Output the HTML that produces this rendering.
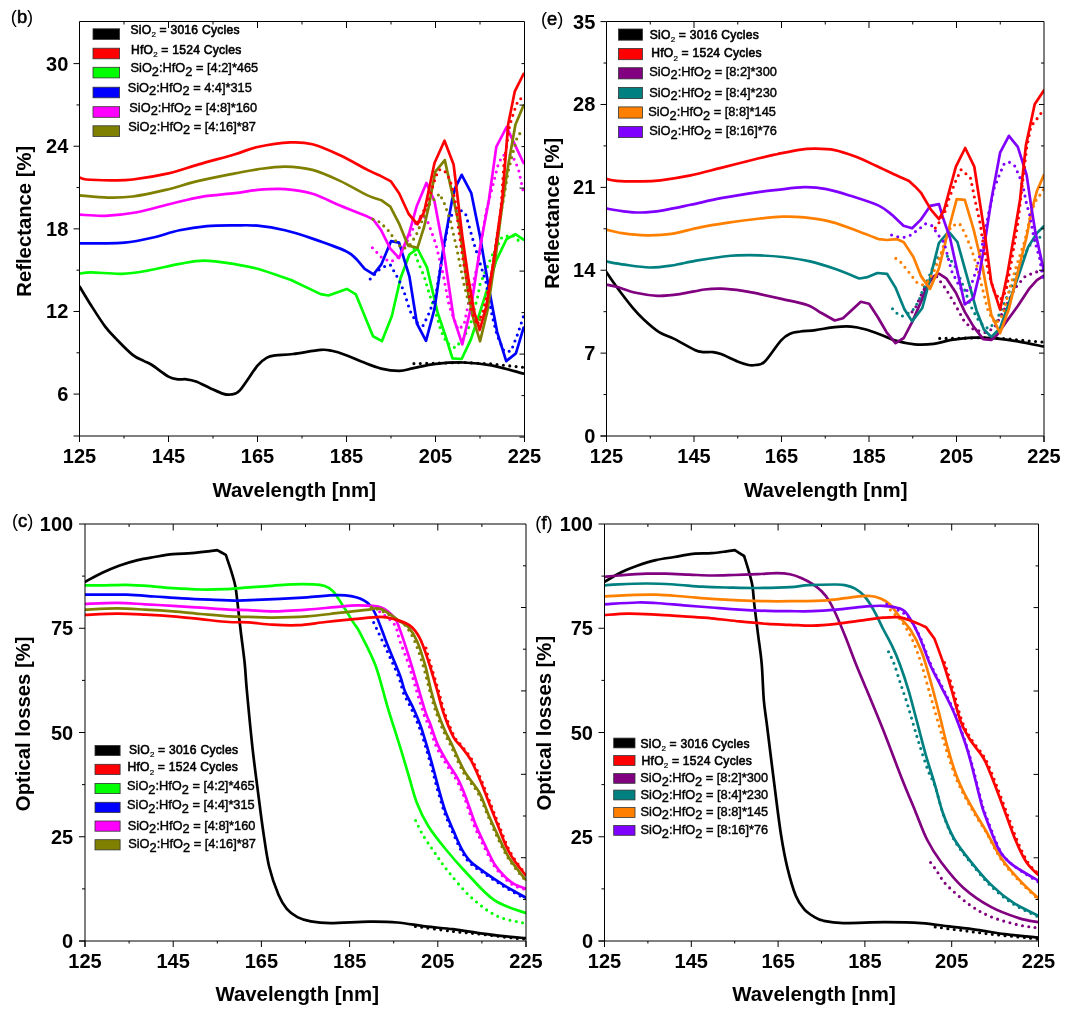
<!DOCTYPE html>
<html><head><meta charset="utf-8"><title>Reflectance and optical losses</title><style>
html,body{margin:0;padding:0;background:#fff;width:1076px;height:1019px;overflow:hidden;}
svg{display:block;will-change:transform;font-family:"Liberation Sans", sans-serif;}
</style></head><body>
<svg width="1076" height="1019" viewBox="0 0 1076 1019">
<rect width="1076" height="1019" fill="#fff"/>
<defs>
<clipPath id="cb"><rect x="79.5" y="21.5" width="445" height="414.5"/></clipPath>
<clipPath id="ce"><rect x="606.5" y="21.5" width="437.5" height="414.5"/></clipPath>
<clipPath id="cc"><rect x="85" y="524" width="441" height="417"/></clipPath>
<clipPath id="cf"><rect x="604.5" y="524" width="434" height="417"/></clipPath>
</defs>

<g clip-path="url(#cb)">
<path d="M79.70,286.70 C81.67,289.92 87.25,299.35 91.50,306.00 C95.75,312.65 101.08,321.12 105.20,326.60 C109.32,332.08 111.62,334.18 116.20,338.90 C120.78,343.62 128.12,351.23 132.70,354.90 C137.28,358.57 140.48,359.22 143.70,360.90 C146.92,362.58 147.87,362.38 152.00,365.00 C156.13,367.62 164.15,374.22 168.50,376.60 C172.85,378.98 175.13,378.85 178.10,379.30 C181.07,379.75 183.32,378.93 186.30,379.30 C189.28,379.67 192.10,380.07 196.00,381.50 C199.90,382.93 205.12,385.83 209.70,387.90 C214.28,389.97 220.07,392.80 223.50,393.90 C226.93,395.00 227.62,395.05 230.30,394.50 C232.98,393.95 235.07,395.42 239.60,390.60 C244.13,385.78 252.92,371.10 257.50,365.60 C262.08,360.10 264.12,359.30 267.10,357.60 C270.08,355.90 271.05,356.00 275.40,355.40 C279.75,354.80 285.65,354.92 293.20,354.00 C300.75,353.08 314.28,350.43 320.70,349.90 C327.12,349.37 327.57,349.97 331.70,350.80 C335.83,351.63 340.45,353.07 345.50,354.90 C350.55,356.73 356.05,359.52 362.00,361.80 C367.95,364.08 374.95,367.08 381.20,368.60 C387.45,370.12 394.12,370.98 399.50,370.90 C404.88,370.82 407.45,369.27 413.50,368.10 C419.55,366.93 427.45,364.83 435.80,363.90 C444.15,362.97 454.32,362.27 463.60,362.50 C472.88,362.73 481.50,363.45 491.50,365.30 C501.50,367.15 518.25,372.22 523.60,373.60" fill="none" stroke="#000000" stroke-width="2.7" stroke-linejoin="round" stroke-linecap="round"/>
<path d="M413.90,363.60 L435.80,363.20 L463.60,362.50 L491.50,363.90 L523.60,367.40" fill="none" stroke="#000000" stroke-width="3.1" stroke-linecap="round" stroke-dasharray="0 6.4"/>
<path d="M79.70,273.50 C81.67,273.32 84.50,272.35 91.50,272.40 C98.50,272.45 112.53,274.07 121.70,273.80 C130.87,273.53 136.87,272.45 146.50,270.80 C156.13,269.15 169.88,265.60 179.50,263.90 C189.12,262.20 194.95,260.55 204.20,260.60 C213.45,260.65 226.12,262.83 235.00,264.20 C243.88,265.57 248.25,266.20 257.50,268.80 C266.75,271.40 285.00,277.97 290.50,279.80 L320.70,294.10 L328.40,295.50 L346.80,288.90 L355.90,294.40 L373.00,336.20 L382.00,341.10 L391.80,316.30 L400.60,278.00 L409.40,254.50 L417.50,248.60 L427.10,267.70 L437.40,311.90 L445.50,336.00 L452.50,358.30 L461.60,359.00 L470.60,340.20 L480.40,310.90 L496.30,260.40 L506.60,239.00 L515.40,234.20 L523.50,239.70" fill="none" stroke="#00ff00" stroke-width="2.7" stroke-linejoin="round" stroke-linecap="round"/>
<path d="M413.90,248.60 L416.80,258.90 L424.20,276.50 L429.50,294.20 L437.20,317.90 L441.30,331.80 L446.90,343.00 L455.30,347.90 L463.60,338.10 L470.60,323.50 L477.60,297.00 L480.10,283.90 L491.90,255.90 L502.20,236.80 L512.50,235.30 L522.80,244.20" fill="none" stroke="#00ff00" stroke-width="3.1" stroke-linecap="round" stroke-dasharray="0 6.4"/>
<path d="M79.70,243.30 C82.58,243.30 89.53,243.40 97.00,243.30 C104.47,243.20 115.33,243.62 124.50,242.70 C133.67,241.78 142.83,239.87 152.00,237.80 C161.17,235.73 170.33,232.23 179.50,230.30 C188.67,228.37 197.75,227.02 207.00,226.20 C216.25,225.38 226.58,225.48 235.00,225.40 C243.42,225.32 249.17,224.88 257.50,225.70 C265.83,226.52 275.83,228.15 285.00,230.30 C294.17,232.45 302.42,235.15 312.50,238.60 C322.58,242.05 338.17,247.57 345.50,251.00 C352.83,254.43 354.67,257.83 356.50,259.20 L364.70,268.80 L373.50,274.30 L381.20,264.70 L391.00,241.20 L399.10,242.70 L409.40,276.50 L416.90,323.50 L426.00,340.90 L434.50,308.90 L443.30,248.60 L452.10,200.00 L455.10,188.10 L461.70,174.80 L471.30,193.20 L480.10,236.80 L488.90,288.30 L497.10,331.80 L506.20,361.10 L515.90,353.40 L523.60,327.60" fill="none" stroke="#0000ff" stroke-width="2.7" stroke-linejoin="round" stroke-linecap="round"/>
<path d="M370.20,279.00 L378.50,270.20 L385.30,266.10 L390.30,264.80 L399.10,280.20 L404.40,292.80 L410.00,310.90 L416.20,322.10 L423.20,325.50 L428.80,313.70 L435.80,295.60 L438.90,276.50 L449.20,217.70 L458.00,208.80 L465.40,213.20 L474.20,244.20 L486.00,282.40 L492.00,315.00 L497.00,335.00 L504.10,351.30 L511.00,351.30 L518.00,333.20 L523.60,315.80" fill="none" stroke="#0000ff" stroke-width="3.1" stroke-linecap="round" stroke-dasharray="0 6.4"/>
<path d="M79.70,214.70 C83.95,214.88 95.90,216.17 105.20,215.80 C114.50,215.43 124.50,214.52 135.50,212.50 C146.50,210.48 160.20,206.32 171.20,203.70 C182.20,201.08 190.87,198.55 201.50,196.80 C212.13,195.05 225.67,194.35 235.00,193.20 C244.33,192.05 249.17,190.58 257.50,189.90 C265.83,189.22 275.83,188.45 285.00,189.10 C294.17,189.75 303.33,191.05 312.50,193.80 C321.67,196.55 330.83,201.80 340.00,205.60 C349.17,209.40 362.92,214.77 367.50,216.60 L373.00,219.30 L381.20,230.30 L390.30,248.60 L399.10,258.10 L403.60,247.10 L409.40,232.40 L416.80,205.90 L426.40,182.90 L434.50,201.30 L443.30,248.60 L453.60,317.80 L462.30,344.40 L471.30,306.00 L480.10,247.10 L488.90,200.00 L496.30,146.90 L506.60,127.00 L523.50,163.00" fill="none" stroke="#ff00ff" stroke-width="2.7" stroke-linejoin="round" stroke-linecap="round"/>
<path d="M372.40,247.70 L381.20,257.00 L390.30,261.80 L397.70,258.10 L406.50,242.70 L416.80,220.60 L424.20,216.20 L428.60,223.60 L435.90,244.20 L443.30,275.10 L449.20,306.00 L458.00,329.50 L463.90,325.10 L469.80,297.20 L478.60,260.40 L486.00,211.80 L497.80,166.00 L502.20,155.70 L508.10,154.20 L512.50,155.70 L518.40,168.90 L523.50,192.50" fill="none" stroke="#ff00ff" stroke-width="3.1" stroke-linecap="round" stroke-dasharray="0 6.4"/>
<path d="M79.70,195.40 C84.42,195.77 99.17,197.42 108.00,197.60 C116.83,197.78 123.08,197.78 132.70,196.50 C142.32,195.22 154.70,192.50 165.70,189.90 C176.70,187.30 187.15,183.65 198.70,180.90 C210.25,178.15 225.20,175.33 235.00,173.40 C244.80,171.47 249.17,170.43 257.50,169.30 C265.83,168.17 275.83,166.50 285.00,166.60 C294.17,166.70 303.33,167.52 312.50,169.90 C321.67,172.28 330.83,176.65 340.00,180.90 C349.17,185.15 360.63,192.20 367.50,195.40 C374.37,198.60 378.92,199.32 381.20,200.10 L390.30,206.60 L399.10,223.60 L408.00,245.60 L417.50,247.80 L424.20,226.50 L428.60,207.20 L435.20,171.90 L444.80,160.10 L453.60,200.00 L459.50,226.50 L468.30,294.20 L474.20,322.20 L480.10,341.30 L487.50,310.40 L496.30,251.50 L502.90,200.00 L508.10,166.00 L515.40,124.80 L523.50,105.60" fill="none" stroke="#808000" stroke-width="2.7" stroke-linejoin="round" stroke-linecap="round"/>
<path d="M373.00,219.30 L379.80,222.10 L384.00,226.20 L389.00,231.20 L394.70,239.70 L400.60,247.10 L403.60,248.60 L409.40,245.60 L416.10,235.30 L422.70,219.10 L430.00,203.50 L435.20,198.40 L439.60,193.70 L441.80,198.40 L444.80,204.40 L450.70,222.10 L456.50,247.10 L463.90,283.90 L469.80,307.50 L475.70,322.20 L483.00,317.80 L487.50,303.00 L491.90,270.70 L497.80,229.40 L503.70,198.40 L508.10,171.90 L512.50,154.20 L517.60,135.80 L522.00,131.40" fill="none" stroke="#808000" stroke-width="3.1" stroke-linecap="round" stroke-dasharray="0 6.4"/>
<path d="M79.70,177.60 C80.75,177.92 80.83,179.05 86.00,179.50 C91.17,179.95 102.92,180.30 110.70,180.30 C118.48,180.30 123.07,180.65 132.70,179.50 C142.33,178.35 157.50,175.92 168.50,173.40 C179.50,170.88 187.62,167.60 198.70,164.40 C209.78,161.20 225.20,157.10 235.00,154.20 C244.80,151.30 248.25,148.97 257.50,147.00 C266.75,145.03 281.33,142.85 290.50,142.40 C299.67,141.95 304.25,142.15 312.50,144.30 C320.75,146.45 330.83,151.03 340.00,155.30 C349.17,159.57 360.83,166.52 367.50,169.90 C374.17,173.28 377.92,174.65 380.00,175.60 L391.00,181.40 L399.10,193.20 L408.70,214.00 L417.50,224.30 L424.20,211.80 L434.50,163.00 L444.50,140.70 L453.60,164.50 L462.40,236.80 L468.30,278.00 L474.20,311.90 L479.70,330.00 L486.00,308.00 L493.40,263.30 L502.20,200.00 L508.10,124.80 L514.70,91.70 L523.50,74.00" fill="none" stroke="#ff0000" stroke-width="2.7" stroke-linejoin="round" stroke-linecap="round"/>
<path d="M417.50,222.00 L422.00,214.00 L427.10,204.40 L436.00,176.30 L438.90,169.70 L443.30,169.70 L447.70,174.80 L452.10,186.60 L456.50,207.20 L458.00,225.00 L462.40,256.00 L466.90,282.40 L472.00,311.90 L477.20,325.10 L483.00,311.90 L488.90,286.90 L494.80,254.50 L500.70,211.80 L504.00,163.00 L509.50,126.20 L514.00,111.50 L518.40,99.70 L523.50,97.50" fill="none" stroke="#ff0000" stroke-width="3.1" stroke-linecap="round" stroke-dasharray="0 6.4"/>
</g>
<line x1="79.50" y1="21.50" x2="79.50" y2="442.00" stroke="#000" stroke-width="1"/>
<line x1="73.50" y1="436.00" x2="524.50" y2="436.00" stroke="#000" stroke-width="1"/>
<line x1="79.50" y1="21.50" x2="524.50" y2="21.50" stroke="#000" stroke-width="1"/>
<line x1="524.50" y1="21.50" x2="524.50" y2="442.00" stroke="#000" stroke-width="1"/>
<line x1="79.50" y1="436.00" x2="79.50" y2="442.00" stroke="#000" stroke-width="1"/>
<text x="79.50" y="463.20" font-size="20" text-anchor="middle" font-weight="bold" >125</text>
<line x1="168.50" y1="436.00" x2="168.50" y2="442.00" stroke="#000" stroke-width="1"/>
<text x="168.50" y="463.20" font-size="20" text-anchor="middle" font-weight="bold" >145</text>
<line x1="257.50" y1="436.00" x2="257.50" y2="442.00" stroke="#000" stroke-width="1"/>
<text x="257.50" y="463.20" font-size="20" text-anchor="middle" font-weight="bold" >165</text>
<line x1="346.50" y1="436.00" x2="346.50" y2="442.00" stroke="#000" stroke-width="1"/>
<text x="346.50" y="463.20" font-size="20" text-anchor="middle" font-weight="bold" >185</text>
<line x1="435.50" y1="436.00" x2="435.50" y2="442.00" stroke="#000" stroke-width="1"/>
<text x="435.50" y="463.20" font-size="20" text-anchor="middle" font-weight="bold" >205</text>
<line x1="524.50" y1="436.00" x2="524.50" y2="442.00" stroke="#000" stroke-width="1"/>
<text x="524.50" y="463.20" font-size="20" text-anchor="middle" font-weight="bold" >225</text>
<line x1="124.00" y1="436.00" x2="124.00" y2="438.50" stroke="#000" stroke-width="1"/>
<line x1="213.00" y1="436.00" x2="213.00" y2="438.50" stroke="#000" stroke-width="1"/>
<line x1="302.00" y1="436.00" x2="302.00" y2="438.50" stroke="#000" stroke-width="1"/>
<line x1="391.00" y1="436.00" x2="391.00" y2="438.50" stroke="#000" stroke-width="1"/>
<line x1="480.00" y1="436.00" x2="480.00" y2="438.50" stroke="#000" stroke-width="1"/>
<line x1="168.50" y1="21.50" x2="168.50" y2="28.00" stroke="#000" stroke-width="1"/>
<line x1="257.50" y1="21.50" x2="257.50" y2="28.00" stroke="#000" stroke-width="1"/>
<line x1="346.50" y1="21.50" x2="346.50" y2="28.00" stroke="#000" stroke-width="1"/>
<line x1="435.50" y1="21.50" x2="435.50" y2="28.00" stroke="#000" stroke-width="1"/>
<line x1="124.00" y1="21.50" x2="124.00" y2="24.50" stroke="#000" stroke-width="1"/>
<line x1="213.00" y1="21.50" x2="213.00" y2="24.50" stroke="#000" stroke-width="1"/>
<line x1="302.00" y1="21.50" x2="302.00" y2="24.50" stroke="#000" stroke-width="1"/>
<line x1="391.00" y1="21.50" x2="391.00" y2="24.50" stroke="#000" stroke-width="1"/>
<line x1="480.00" y1="21.50" x2="480.00" y2="24.50" stroke="#000" stroke-width="1"/>
<line x1="73.50" y1="394.10" x2="79.50" y2="394.10" stroke="#000" stroke-width="1"/>
<text x="68.30" y="401.10" font-size="20" text-anchor="end" font-weight="bold" >6</text>
<line x1="73.50" y1="311.48" x2="79.50" y2="311.48" stroke="#000" stroke-width="1"/>
<text x="68.30" y="318.48" font-size="20" text-anchor="end" font-weight="bold" >12</text>
<line x1="73.50" y1="228.86" x2="79.50" y2="228.86" stroke="#000" stroke-width="1"/>
<text x="68.30" y="235.86" font-size="20" text-anchor="end" font-weight="bold" >18</text>
<line x1="73.50" y1="146.24" x2="79.50" y2="146.24" stroke="#000" stroke-width="1"/>
<text x="68.30" y="153.24" font-size="20" text-anchor="end" font-weight="bold" >24</text>
<line x1="73.50" y1="63.62" x2="79.50" y2="63.62" stroke="#000" stroke-width="1"/>
<text x="68.30" y="70.62" font-size="20" text-anchor="end" font-weight="bold" >30</text>
<line x1="76.50" y1="352.79" x2="79.50" y2="352.79" stroke="#000" stroke-width="1"/>
<line x1="76.50" y1="270.17" x2="79.50" y2="270.17" stroke="#000" stroke-width="1"/>
<line x1="76.50" y1="187.55" x2="79.50" y2="187.55" stroke="#000" stroke-width="1"/>
<line x1="76.50" y1="104.93" x2="79.50" y2="104.93" stroke="#000" stroke-width="1"/>
<line x1="521.50" y1="63.60" x2="524.50" y2="63.60" stroke="#000" stroke-width="1"/>
<line x1="519.50" y1="105.10" x2="524.50" y2="105.10" stroke="#000" stroke-width="1"/>
<line x1="521.50" y1="146.60" x2="524.50" y2="146.60" stroke="#000" stroke-width="1"/>
<line x1="519.50" y1="188.10" x2="524.50" y2="188.10" stroke="#000" stroke-width="1"/>
<line x1="521.50" y1="229.60" x2="524.50" y2="229.60" stroke="#000" stroke-width="1"/>
<line x1="519.50" y1="271.10" x2="524.50" y2="271.10" stroke="#000" stroke-width="1"/>
<line x1="521.50" y1="312.60" x2="524.50" y2="312.60" stroke="#000" stroke-width="1"/>
<line x1="519.50" y1="354.10" x2="524.50" y2="354.10" stroke="#000" stroke-width="1"/>
<line x1="521.50" y1="395.60" x2="524.50" y2="395.60" stroke="#000" stroke-width="1"/>
<line x1="519.50" y1="437.10" x2="524.50" y2="437.10" stroke="#000" stroke-width="1"/>
<text x="294.20" y="496.70" font-size="20.4" text-anchor="middle" font-weight="bold" >Wavelength [nm]</text>
<text x="31.50" y="221.20" font-size="20.3" text-anchor="middle" font-weight="bold" transform="rotate(-90 31.5 221.2)">Reflectance [%]</text>
<text x="10.80" y="23.40" font-size="18.3"><tspan>(</tspan><tspan stroke="#000" stroke-width="0.6">b</tspan><tspan>)</tspan></text>
<rect x="93.00" y="28.80" width="26.60" height="10.6" fill="#000000" stroke="#333" stroke-width="0.8"/>
<text x="130.50" y="33.70"><tspan font-size="12.1" letter-spacing="0.25" stroke="#000" stroke-width="0.6">SiO</tspan><tspan font-size="8" dy="3.4" stroke="#000" stroke-width="0.2">2</tspan><tspan font-size="12.1" letter-spacing="0.25" stroke="#000" stroke-width="0.6" dy="-3.4"> = 3016 Cycles</tspan></text>
<rect x="93.00" y="48.20" width="26.60" height="10.6" fill="#ff0000" stroke="#333" stroke-width="0.8"/>
<text x="131.00" y="53.90"><tspan font-size="12.1" letter-spacing="0.25" stroke="#000" stroke-width="0.6">HfO</tspan><tspan font-size="8" dy="3.4" stroke="#000" stroke-width="0.2">2</tspan><tspan font-size="12.1" letter-spacing="0.25" stroke="#000" stroke-width="0.6" dy="-3.4"> = 1524 Cycles</tspan></text>
<rect x="93.00" y="67.30" width="26.60" height="10.6" fill="#00ff00" stroke="#333" stroke-width="0.8"/>
<text x="130.50" y="72.10"><tspan font-size="12.8" stroke="#000" stroke-width="0.42">SiO</tspan><tspan font-size="12.8" stroke="#000" stroke-width="0.42" dy="3.4">2</tspan><tspan font-size="12.8" stroke="#000" stroke-width="0.42" dy="-3.4">:HfO</tspan><tspan font-size="12.8" stroke="#000" stroke-width="0.42" dy="3.4">2</tspan><tspan font-size="12.8" stroke="#000" stroke-width="0.42" dy="-3.4"> = [4:2]*465</tspan></text>
<rect x="93.00" y="87.20" width="26.60" height="10.6" fill="#0000ff" stroke="#333" stroke-width="0.8"/>
<text x="127.70" y="92.00"><tspan font-size="12.8" stroke="#000" stroke-width="0.42">SiO</tspan><tspan font-size="12.8" stroke="#000" stroke-width="0.42" dy="3.4">2</tspan><tspan font-size="12.8" stroke="#000" stroke-width="0.42" dy="-3.4">:HfO</tspan><tspan font-size="12.8" stroke="#000" stroke-width="0.42" dy="3.4">2</tspan><tspan font-size="12.8" stroke="#000" stroke-width="0.42" dy="-3.4"> = 4:4]*315</tspan></text>
<rect x="93.00" y="106.70" width="26.60" height="10.6" fill="#ff00ff" stroke="#333" stroke-width="0.8"/>
<text x="129.30" y="111.90"><tspan font-size="12.8" stroke="#000" stroke-width="0.42">SiO</tspan><tspan font-size="12.8" stroke="#000" stroke-width="0.42" dy="3.4">2</tspan><tspan font-size="12.8" stroke="#000" stroke-width="0.42" dy="-3.4">:HfO</tspan><tspan font-size="12.8" stroke="#000" stroke-width="0.42" dy="3.4">2</tspan><tspan font-size="12.8" stroke="#000" stroke-width="0.42" dy="-3.4"> = [4:8]*160</tspan></text>
<rect x="93.00" y="125.80" width="26.60" height="10.6" fill="#808000" stroke="#333" stroke-width="0.8"/>
<text x="128.20" y="130.70"><tspan font-size="12.8" stroke="#000" stroke-width="0.42">SiO</tspan><tspan font-size="12.8" stroke="#000" stroke-width="0.42" dy="3.4">2</tspan><tspan font-size="12.8" stroke="#000" stroke-width="0.42" dy="-3.4">:HfO</tspan><tspan font-size="12.8" stroke="#000" stroke-width="0.42" dy="3.4">2</tspan><tspan font-size="12.8" stroke="#000" stroke-width="0.42" dy="-3.4"> = [4:16]*87</tspan></text>
<g clip-path="url(#ce)">
<path d="M606.00,271.60 C607.75,274.12 612.00,280.62 616.50,286.70 C621.00,292.78 628.42,302.60 633.00,308.10 C637.58,313.60 639.65,315.70 644.00,319.70 C648.35,323.70 654.07,328.90 659.10,332.10 C664.13,335.30 668.25,335.93 674.20,338.90 C680.15,341.87 689.98,347.70 694.80,349.90 C699.62,352.10 700.12,351.73 703.10,352.10 C706.08,352.47 709.72,351.77 712.70,352.10 C715.68,352.43 716.87,352.53 721.00,354.10 C725.13,355.67 732.92,359.68 737.50,361.50 C742.08,363.32 745.53,364.42 748.50,365.00 C751.47,365.58 752.62,365.53 755.30,365.00 C757.98,364.47 760.30,365.92 764.60,361.80 C768.90,357.68 776.75,345.03 781.10,340.30 C785.45,335.57 787.48,334.87 790.70,333.40 C793.92,331.93 796.27,332.05 800.40,331.50 C804.53,330.95 809.78,330.83 815.50,330.10 C821.22,329.37 828.75,327.68 834.70,327.10 C840.65,326.52 846.15,326.23 851.20,326.60 C856.25,326.97 859.73,327.82 865.00,329.30 C870.27,330.78 877.72,333.62 882.80,335.50 C887.88,337.38 890.18,339.13 895.50,340.60 C900.82,342.07 908.32,343.77 914.70,344.30 C921.08,344.83 927.67,344.53 933.80,343.80 C939.93,343.07 944.87,340.93 951.50,339.90 C958.13,338.87 966.23,337.85 973.60,337.60 C980.97,337.35 988.33,337.78 995.70,338.40 C1003.07,339.02 1009.83,339.95 1017.80,341.30 C1025.77,342.65 1039.22,345.63 1043.50,346.50" fill="none" stroke="#000000" stroke-width="2.7" stroke-linejoin="round" stroke-linecap="round"/>
<path d="M939.70,338.40 L958.90,338.40 L981.00,337.60 L1003.00,338.40 L1025.10,340.60 L1043.50,342.10" fill="none" stroke="#000000" stroke-width="3.1" stroke-linecap="round" stroke-dasharray="0 6.4"/>
<path d="M606.00,284.50 C607.75,284.87 611.55,285.32 616.50,286.70 C621.45,288.08 628.83,291.28 635.70,292.80 C642.57,294.32 650.37,295.58 657.70,295.80 C665.03,296.02 671.90,295.15 679.70,294.10 C687.50,293.05 697.62,290.42 704.50,289.50 C711.38,288.58 714.58,288.38 721.00,288.60 C727.42,288.82 736.50,289.88 743.00,290.80 C749.50,291.72 753.42,292.72 760.00,294.10 C766.58,295.48 774.63,297.27 782.50,299.10 C790.37,300.93 800.78,302.82 807.20,305.10 C813.62,307.38 818.70,311.52 821.00,312.80 L834.70,320.50 L843.00,318.30 L860.80,301.80 L869.10,303.70 L877.70,317.00 L886.60,332.30 L895.50,343.10 L903.80,338.00 L912.10,322.10 L921.00,301.70 L927.40,285.10 L933.80,276.10 L938.90,273.60 L946.60,278.70 L955.90,292.70 L964.80,311.90 L973.60,326.60 L983.20,339.10 L991.30,339.90 L997.20,334.70 L1006.00,322.20 L1017.80,306.00 L1029.50,288.30 L1036.90,280.20 L1043.50,275.80" fill="none" stroke="#800080" stroke-width="2.7" stroke-linejoin="round" stroke-linecap="round"/>
<path d="M912.10,311.90 L915.90,306.80 L919.80,297.80 L923.60,290.20 L930.00,280.00 L936.30,276.10 L940.20,281.20 L944.00,286.30 L947.80,292.10 L955.90,306.00 L964.80,322.20 L973.60,329.50 L985.40,332.50 L994.20,328.10 L1003.00,311.90 L1014.80,288.30 L1025.10,276.50 L1035.40,272.10 L1043.50,270.70" fill="none" stroke="#800080" stroke-width="3.1" stroke-linecap="round" stroke-dasharray="0 6.4"/>
<path d="M606.00,261.40 C609.12,261.95 617.45,263.68 624.70,264.70 C631.95,265.72 641.70,267.37 649.50,267.50 C657.30,267.63 663.72,266.65 671.50,265.50 C679.28,264.35 687.50,262.10 696.20,260.60 C704.90,259.10 716.82,257.37 723.70,256.50 C730.58,255.63 731.45,255.58 737.50,255.40 C743.55,255.22 752.50,255.13 760.00,255.40 C767.50,255.67 774.17,256.00 782.50,257.00 C790.83,258.00 801.30,259.43 810.00,261.40 C818.70,263.37 826.45,265.95 834.70,268.80 C842.95,271.65 855.37,276.88 859.50,278.50 L867.70,277.10 L877.30,273.00 L887.00,273.80 L895.50,287.60 L904.40,309.30 L912.10,321.40 L922.30,308.00 L928.70,283.80 L933.80,263.40 L938.90,243.00 L948.60,231.60 L957.40,242.00 L966.20,273.60 L976.50,310.40 L983.90,329.50 L991.30,336.90 L1000.10,328.10 L1008.90,303.00 L1019.20,273.60 L1028.10,247.10 L1036.90,233.10 L1043.50,226.50" fill="none" stroke="#008080" stroke-width="2.7" stroke-linejoin="round" stroke-linecap="round"/>
<path d="M892.50,308.70 L897.40,313.80 L901.90,316.30 L912.10,311.20 L918.50,301.70 L923.00,289.50 L928.70,277.40 L935.10,262.10 L940.80,253.20 L947.10,255.90 L954.50,264.80 L961.80,282.40 L970.70,306.00 L979.50,322.20 L988.30,328.80 L995.70,322.20 L1003.00,306.00 L1011.90,285.40 L1020.70,261.80 L1029.50,245.60 L1036.90,238.30 L1043.50,236.10" fill="none" stroke="#008080" stroke-width="3.1" stroke-linecap="round" stroke-dasharray="0 6.4"/>
<path d="M606.00,229.50 C608.67,230.10 615.22,232.13 622.00,233.10 C628.78,234.07 638.45,235.17 646.70,235.30 C654.95,235.43 662.78,235.18 671.50,233.90 C680.22,232.62 689.83,229.43 699.00,227.60 C708.17,225.77 716.33,224.42 726.50,222.90 C736.67,221.38 750.67,219.55 760.00,218.50 C769.33,217.45 775.08,216.78 782.50,216.60 C789.92,216.42 796.25,216.48 804.50,217.40 C812.75,218.32 822.83,219.72 832.00,222.10 C841.17,224.48 851.72,228.87 859.50,231.70 C867.28,234.53 875.50,237.87 878.70,239.10 L887.00,240.00 L896.60,239.10 L903.80,242.30 L913.40,257.00 L921.00,276.10 L930.00,288.90 L938.90,268.50 L947.10,235.30 L956.70,199.10 L964.80,199.90 L973.60,229.40 L982.40,266.20 L991.30,314.80 L1000.10,333.20 L1008.90,308.90 L1017.80,272.10 L1026.60,236.80 L1031.80,210.00 L1036.90,191.00 L1044.00,174.80" fill="none" stroke="#ff8000" stroke-width="2.7" stroke-linejoin="round" stroke-linecap="round"/>
<path d="M895.80,258.40 L901.30,262.70 L905.70,268.20 L909.80,273.30 L913.40,278.10 L917.50,283.20 L922.30,284.80 L927.40,282.50 L933.80,271.70 L940.80,254.40 L946.60,235.30 L951.50,225.80 L959.60,223.60 L964.80,233.10 L970.70,247.10 L976.50,264.80 L982.40,288.30 L988.30,311.90 L995.70,323.70 L1003.00,314.80 L1010.40,285.40 L1017.80,261.80 L1025.10,239.70 L1031.00,213.20 L1035.40,201.30 L1039.10,196.20 L1043.50,189.50" fill="none" stroke="#ff8000" stroke-width="3.1" stroke-linecap="round" stroke-dasharray="0 6.4"/>
<path d="M606.00,208.40 C608.67,208.85 616.13,210.42 622.00,211.10 C627.87,211.78 634.33,212.63 641.20,212.50 C648.07,212.37 654.95,211.58 663.20,210.30 C671.45,209.02 681.07,206.82 690.70,204.80 C700.33,202.78 709.45,200.35 721.00,198.20 C732.55,196.05 750.67,193.28 760.00,191.90 C769.33,190.52 769.58,190.68 777.00,189.90 C784.42,189.12 796.25,187.33 804.50,187.20 C812.75,187.07 818.72,187.63 826.50,189.10 C834.28,190.57 842.50,193.25 851.20,196.00 C859.90,198.75 871.82,202.40 878.70,205.60 C885.58,208.80 890.20,213.60 892.50,215.20 L903.50,225.70 L912.10,228.30 L920.60,219.90 L930.20,205.90 L939.00,204.20 L942.70,216.90 L950.10,238.30 L955.90,264.80 L964.80,304.50 L973.60,297.90 L979.50,273.60 L983.90,248.60 L991.30,200.00 L1000.10,152.70 L1008.90,135.80 L1017.80,146.90 L1026.60,174.80 L1031.00,205.00 L1035.40,232.40 L1043.50,269.20" fill="none" stroke="#8000ff" stroke-width="2.7" stroke-linejoin="round" stroke-linecap="round"/>
<path d="M891.60,235.00 L898.10,236.80 L904.20,237.20 L910.20,235.30 L915.30,231.70 L920.40,227.90 L925.50,223.80 L931.90,225.70 L938.30,235.10 L944.20,242.70 L951.50,270.70 L960.40,288.30 L969.20,291.30 L976.50,269.20 L982.40,244.20 L988.30,214.70 L994.20,188.10 L999.40,174.80 L1004.50,163.00 L1009.70,162.30 L1014.80,166.00 L1020.00,177.80 L1023.70,189.50 L1026.60,204.30 L1029.50,214.00 L1034.00,238.30 L1039.80,258.90 L1043.50,282.40" fill="none" stroke="#8000ff" stroke-width="3.1" stroke-linecap="round" stroke-dasharray="0 6.4"/>
<path d="M606.00,178.90 C607.75,179.23 610.63,180.48 616.50,180.90 C622.37,181.32 633.87,181.50 641.20,181.40 C648.53,181.30 652.25,181.30 660.50,180.30 C668.75,179.30 680.62,177.47 690.70,175.40 C700.78,173.33 709.45,170.80 721.00,167.90 C732.55,165.00 750.67,160.28 760.00,158.00 C769.33,155.72 770.50,155.57 777.00,154.20 C783.50,152.83 792.58,150.72 799.00,149.80 C805.42,148.88 809.55,148.65 815.50,148.70 C821.45,148.75 828.28,148.87 834.70,150.10 C841.12,151.33 847.12,153.50 854.00,156.10 C860.88,158.70 869.13,162.58 876.00,165.70 C882.87,168.82 889.70,172.27 895.20,174.80 C900.70,177.33 906.70,179.88 909.00,180.90 L915.00,186.40 L921.30,193.20 L930.90,209.60 L939.00,219.10 L944.20,209.60 L955.90,166.70 L965.20,148.00 L974.30,166.70 L979.50,200.00 L985.40,238.30 L991.30,282.40 L1000.10,309.70 L1007.50,273.60 L1014.80,230.90 L1020.00,200.00 L1025.90,145.40 L1034.70,104.20 L1044.00,90.20" fill="none" stroke="#ff0000" stroke-width="2.7" stroke-linejoin="round" stroke-linecap="round"/>
<path d="M935.30,228.00 L940.50,220.60 L945.60,210.30 L948.60,199.90 L955.20,182.20 L961.10,169.70 L965.50,173.40 L970.70,178.50 L974.30,196.90 L980.20,223.60 L983.90,248.60 L988.30,272.10 L994.20,291.30 L1000.10,300.10 L1006.00,291.30 L1011.90,258.90 L1017.80,223.60 L1026.60,148.30 L1031.00,126.20 L1036.90,118.90 L1042.80,110.80" fill="none" stroke="#ff0000" stroke-width="3.1" stroke-linecap="round" stroke-dasharray="0 6.4"/>
</g>
<line x1="606.50" y1="21.50" x2="606.50" y2="442.00" stroke="#000" stroke-width="1"/>
<line x1="600.50" y1="436.00" x2="1044.00" y2="436.00" stroke="#000" stroke-width="1"/>
<line x1="606.50" y1="21.50" x2="1044.00" y2="21.50" stroke="#000" stroke-width="1"/>
<line x1="1044.00" y1="21.50" x2="1044.00" y2="442.00" stroke="#000" stroke-width="1"/>
<line x1="606.50" y1="436.00" x2="606.50" y2="442.00" stroke="#000" stroke-width="1"/>
<text x="606.50" y="463.20" font-size="20" text-anchor="middle" font-weight="bold" >125</text>
<line x1="694.00" y1="436.00" x2="694.00" y2="442.00" stroke="#000" stroke-width="1"/>
<text x="694.00" y="463.20" font-size="20" text-anchor="middle" font-weight="bold" >145</text>
<line x1="781.50" y1="436.00" x2="781.50" y2="442.00" stroke="#000" stroke-width="1"/>
<text x="781.50" y="463.20" font-size="20" text-anchor="middle" font-weight="bold" >165</text>
<line x1="869.00" y1="436.00" x2="869.00" y2="442.00" stroke="#000" stroke-width="1"/>
<text x="869.00" y="463.20" font-size="20" text-anchor="middle" font-weight="bold" >185</text>
<line x1="956.50" y1="436.00" x2="956.50" y2="442.00" stroke="#000" stroke-width="1"/>
<text x="956.50" y="463.20" font-size="20" text-anchor="middle" font-weight="bold" >205</text>
<line x1="1044.00" y1="436.00" x2="1044.00" y2="442.00" stroke="#000" stroke-width="1"/>
<text x="1044.00" y="463.20" font-size="20" text-anchor="middle" font-weight="bold" >225</text>
<line x1="650.25" y1="436.00" x2="650.25" y2="438.50" stroke="#000" stroke-width="1"/>
<line x1="737.75" y1="436.00" x2="737.75" y2="438.50" stroke="#000" stroke-width="1"/>
<line x1="825.25" y1="436.00" x2="825.25" y2="438.50" stroke="#000" stroke-width="1"/>
<line x1="912.75" y1="436.00" x2="912.75" y2="438.50" stroke="#000" stroke-width="1"/>
<line x1="1000.25" y1="436.00" x2="1000.25" y2="438.50" stroke="#000" stroke-width="1"/>
<line x1="694.00" y1="21.50" x2="694.00" y2="28.00" stroke="#000" stroke-width="1"/>
<line x1="781.50" y1="21.50" x2="781.50" y2="28.00" stroke="#000" stroke-width="1"/>
<line x1="869.00" y1="21.50" x2="869.00" y2="28.00" stroke="#000" stroke-width="1"/>
<line x1="956.50" y1="21.50" x2="956.50" y2="28.00" stroke="#000" stroke-width="1"/>
<line x1="650.25" y1="21.50" x2="650.25" y2="24.50" stroke="#000" stroke-width="1"/>
<line x1="737.75" y1="21.50" x2="737.75" y2="24.50" stroke="#000" stroke-width="1"/>
<line x1="825.25" y1="21.50" x2="825.25" y2="24.50" stroke="#000" stroke-width="1"/>
<line x1="912.75" y1="21.50" x2="912.75" y2="24.50" stroke="#000" stroke-width="1"/>
<line x1="1000.25" y1="21.50" x2="1000.25" y2="24.50" stroke="#000" stroke-width="1"/>
<line x1="600.50" y1="436.00" x2="606.50" y2="436.00" stroke="#000" stroke-width="1"/>
<text x="595.30" y="443.00" font-size="20" text-anchor="end" font-weight="bold" >0</text>
<line x1="600.50" y1="353.12" x2="606.50" y2="353.12" stroke="#000" stroke-width="1"/>
<text x="595.30" y="360.12" font-size="20" text-anchor="end" font-weight="bold" >7</text>
<line x1="600.50" y1="270.24" x2="606.50" y2="270.24" stroke="#000" stroke-width="1"/>
<text x="595.30" y="277.24" font-size="20" text-anchor="end" font-weight="bold" >14</text>
<line x1="600.50" y1="187.36" x2="606.50" y2="187.36" stroke="#000" stroke-width="1"/>
<text x="595.30" y="194.36" font-size="20" text-anchor="end" font-weight="bold" >21</text>
<line x1="600.50" y1="104.48" x2="606.50" y2="104.48" stroke="#000" stroke-width="1"/>
<text x="595.30" y="111.48" font-size="20" text-anchor="end" font-weight="bold" >28</text>
<line x1="600.50" y1="21.60" x2="606.50" y2="21.60" stroke="#000" stroke-width="1"/>
<text x="595.30" y="28.60" font-size="20" text-anchor="end" font-weight="bold" >35</text>
<line x1="603.50" y1="394.56" x2="606.50" y2="394.56" stroke="#000" stroke-width="1"/>
<line x1="603.50" y1="311.68" x2="606.50" y2="311.68" stroke="#000" stroke-width="1"/>
<line x1="603.50" y1="228.80" x2="606.50" y2="228.80" stroke="#000" stroke-width="1"/>
<line x1="603.50" y1="145.92" x2="606.50" y2="145.92" stroke="#000" stroke-width="1"/>
<line x1="603.50" y1="63.04" x2="606.50" y2="63.04" stroke="#000" stroke-width="1"/>
<line x1="1041.00" y1="63.04" x2="1044.00" y2="63.04" stroke="#000" stroke-width="1"/>
<line x1="1039.00" y1="104.48" x2="1044.00" y2="104.48" stroke="#000" stroke-width="1"/>
<line x1="1041.00" y1="145.92" x2="1044.00" y2="145.92" stroke="#000" stroke-width="1"/>
<line x1="1039.00" y1="187.36" x2="1044.00" y2="187.36" stroke="#000" stroke-width="1"/>
<line x1="1041.00" y1="228.80" x2="1044.00" y2="228.80" stroke="#000" stroke-width="1"/>
<line x1="1039.00" y1="270.24" x2="1044.00" y2="270.24" stroke="#000" stroke-width="1"/>
<line x1="1041.00" y1="311.68" x2="1044.00" y2="311.68" stroke="#000" stroke-width="1"/>
<line x1="1039.00" y1="353.12" x2="1044.00" y2="353.12" stroke="#000" stroke-width="1"/>
<line x1="1041.00" y1="394.56" x2="1044.00" y2="394.56" stroke="#000" stroke-width="1"/>
<text x="825.80" y="496.80" font-size="20.4" text-anchor="middle" font-weight="bold" >Wavelength [nm]</text>
<text x="558.80" y="213.30" font-size="20.3" text-anchor="middle" font-weight="bold" transform="rotate(-90 558.8 213.3)">Reflectance [%]</text>
<text x="541.00" y="24.80" font-size="18.3"><tspan>(</tspan><tspan stroke="#000" stroke-width="0.6">e</tspan><tspan>)</tspan></text>
<rect x="618.50" y="29.00" width="24.00" height="11.2" fill="#000000" stroke="#333" stroke-width="0.8"/>
<text x="649.80" y="38.70"><tspan font-size="12.1" letter-spacing="0.25" stroke="#000" stroke-width="0.6">SiO</tspan><tspan font-size="8" dy="3.4" stroke="#000" stroke-width="0.2">2</tspan><tspan font-size="12.1" letter-spacing="0.25" stroke="#000" stroke-width="0.6" dy="-3.4"> = 3016 Cycles</tspan></text>
<rect x="618.50" y="48.50" width="24.00" height="11.2" fill="#ff0000" stroke="#333" stroke-width="0.8"/>
<text x="651.20" y="57.40"><tspan font-size="12.1" letter-spacing="0.25" stroke="#000" stroke-width="0.6">HfO</tspan><tspan font-size="8" dy="3.4" stroke="#000" stroke-width="0.2">2</tspan><tspan font-size="12.1" letter-spacing="0.25" stroke="#000" stroke-width="0.6" dy="-3.4"> = 1524 Cycles</tspan></text>
<rect x="618.50" y="67.70" width="24.00" height="11.2" fill="#800080" stroke="#333" stroke-width="0.8"/>
<text x="649.20" y="76.00"><tspan font-size="12.8" stroke="#000" stroke-width="0.42">SiO</tspan><tspan font-size="12.8" stroke="#000" stroke-width="0.42" dy="3.4">2</tspan><tspan font-size="12.8" stroke="#000" stroke-width="0.42" dy="-3.4">:HfO</tspan><tspan font-size="12.8" stroke="#000" stroke-width="0.42" dy="3.4">2</tspan><tspan font-size="12.8" stroke="#000" stroke-width="0.42" dy="-3.4"> = [8:2]*300</tspan></text>
<rect x="618.50" y="87.40" width="24.00" height="11.2" fill="#008080" stroke="#333" stroke-width="0.8"/>
<text x="649.20" y="96.90"><tspan font-size="12.8" stroke="#000" stroke-width="0.42">SiO</tspan><tspan font-size="12.8" stroke="#000" stroke-width="0.42" dy="3.4">2</tspan><tspan font-size="12.8" stroke="#000" stroke-width="0.42" dy="-3.4">:HfO</tspan><tspan font-size="12.8" stroke="#000" stroke-width="0.42" dy="3.4">2</tspan><tspan font-size="12.8" stroke="#000" stroke-width="0.42" dy="-3.4"> = [8:4]*230</tspan></text>
<rect x="618.50" y="106.90" width="24.00" height="11.2" fill="#ff8000" stroke="#333" stroke-width="0.8"/>
<text x="648.20" y="116.40"><tspan font-size="12.8" stroke="#000" stroke-width="0.42">SiO</tspan><tspan font-size="12.8" stroke="#000" stroke-width="0.42" dy="3.4">2</tspan><tspan font-size="12.8" stroke="#000" stroke-width="0.42" dy="-3.4">:HfO</tspan><tspan font-size="12.8" stroke="#000" stroke-width="0.42" dy="3.4">2</tspan><tspan font-size="12.8" stroke="#000" stroke-width="0.42" dy="-3.4"> = [8:8]*145</tspan></text>
<rect x="618.50" y="126.40" width="24.00" height="11.2" fill="#8000ff" stroke="#333" stroke-width="0.8"/>
<text x="649.20" y="135.30"><tspan font-size="12.8" stroke="#000" stroke-width="0.42">SiO</tspan><tspan font-size="12.8" stroke="#000" stroke-width="0.42" dy="3.4">2</tspan><tspan font-size="12.8" stroke="#000" stroke-width="0.42" dy="-3.4">:HfO</tspan><tspan font-size="12.8" stroke="#000" stroke-width="0.42" dy="3.4">2</tspan><tspan font-size="12.8" stroke="#000" stroke-width="0.42" dy="-3.4"> = [8:16]*76</tspan></text>
<g clip-path="url(#cc)">
<path d="M85.20,581.70 C88.05,580.22 96.67,575.47 102.30,572.80 C107.93,570.13 113.12,567.82 119.00,565.70 C124.88,563.58 131.72,561.55 137.60,560.10 C143.48,558.65 148.42,557.98 154.30,557.00 C160.18,556.02 166.70,554.83 172.90,554.20 C179.10,553.57 185.60,553.67 191.50,553.20 C197.40,552.73 204.02,551.92 208.30,551.40 C212.58,550.88 215.72,550.32 217.20,550.10 C218.63,550.90 224.37,554.10 225.80,554.90 C226.72,557.65 229.73,566.30 231.30,571.40 C232.87,576.50 234.17,580.28 235.20,585.50 C236.23,590.72 236.58,595.12 237.50,602.70 C238.42,610.28 239.52,621.05 240.70,631.00 C241.88,640.95 243.58,652.57 244.60,662.40 C245.62,672.23 245.47,675.60 246.80,690.00 C248.13,704.40 250.65,731.15 252.60,748.80 C254.55,766.45 256.73,782.17 258.50,795.90 C260.27,809.63 261.43,819.43 263.20,831.20 C264.97,842.97 266.55,855.92 269.10,866.50 C271.65,877.08 275.55,887.65 278.50,894.70 C281.45,901.75 283.65,905.07 286.80,908.80 C289.95,912.53 293.40,915.00 297.40,917.10 C301.40,919.20 305.30,920.40 310.80,921.40 C316.30,922.40 320.63,923.05 330.40,923.10 C340.17,923.15 358.25,921.80 369.40,921.70 C380.55,921.60 388.00,921.72 397.30,922.50 C406.60,923.28 415.92,925.28 425.20,926.40 C434.48,927.52 443.72,928.03 453.00,929.20 C462.28,930.37 472.53,932.23 480.90,933.40 C489.27,934.57 495.77,935.42 503.20,936.20 C510.63,936.98 521.78,937.78 525.50,938.10" fill="none" stroke="#000000" stroke-width="2.7" stroke-linejoin="round" stroke-linecap="round"/>
<path d="M415.40,926.40 C421.67,927.23 442.08,930.10 453.00,931.40 C463.92,932.70 471.60,933.17 480.90,934.20 C490.20,935.23 501.37,936.80 508.80,937.60 C516.23,938.40 522.72,938.77 525.50,939.00" fill="none" stroke="#000000" stroke-width="3.1" stroke-linecap="round" stroke-dasharray="0 6.4"/>
<path d="M85.20,585.40 C88.05,585.40 95.42,585.50 102.30,585.40 C109.18,585.30 118.45,584.68 126.50,584.80 C134.55,584.92 142.87,585.53 150.60,586.10 C158.33,586.67 164.53,587.63 172.90,588.20 C181.27,588.77 192.12,589.35 200.80,589.50 C209.48,589.65 217.05,589.45 225.00,589.10 C232.95,588.75 240.65,587.95 248.50,587.40 C256.35,586.85 264.80,586.32 272.10,585.80 C279.40,585.28 285.52,584.55 292.30,584.30 C299.08,584.05 307.53,584.05 312.80,584.30 C318.07,584.55 320.50,584.63 323.90,585.80 C327.30,586.97 329.78,587.58 333.20,591.30 C336.62,595.02 341.00,602.83 344.40,608.10 C347.80,613.37 351.00,618.77 353.60,622.90 C356.20,627.03 356.35,625.80 360.00,632.90 C363.65,640.00 370.92,653.18 375.50,665.50 C380.08,677.82 383.42,693.28 387.50,706.80 C391.58,720.32 396.50,735.23 400.00,746.60 C403.50,757.97 405.65,765.52 408.50,775.00 C411.35,784.48 413.78,794.97 417.10,803.50 C420.42,812.03 423.67,818.62 428.40,826.20 C433.13,833.78 439.33,841.42 445.50,849.00 C451.67,856.58 457.33,863.22 465.40,871.70 C473.47,880.18 483.88,893.02 493.90,899.90 C503.92,906.78 520.23,910.82 525.50,913.00" fill="none" stroke="#00ff00" stroke-width="2.7" stroke-linejoin="round" stroke-linecap="round"/>
<path d="M415.60,820.50 C416.80,822.88 419.72,829.58 422.80,834.80 C425.88,840.02 429.83,845.65 434.10,851.80 C438.37,857.95 442.23,864.12 448.40,871.70 C454.57,879.28 462.93,889.88 471.10,897.30 C479.27,904.72 488.33,911.87 497.40,916.20 C506.47,920.53 520.82,922.12 525.50,923.30" fill="none" stroke="#00ff00" stroke-width="3.1" stroke-linecap="round" stroke-dasharray="0 6.4"/>
<path d="M85.20,594.70 C92.08,594.70 114.98,594.40 126.50,594.70 C138.02,595.00 145.02,595.88 154.30,596.50 C163.58,597.12 172.90,597.87 182.20,598.40 C191.50,598.93 200.80,599.33 210.10,599.70 C219.40,600.07 230.28,600.57 238.00,600.60 C245.72,600.63 249.42,600.20 256.40,599.90 C263.38,599.60 271.43,599.23 279.90,598.80 C288.37,598.37 297.38,597.92 307.20,597.30 C317.02,596.68 330.00,594.88 338.80,595.10 C347.60,595.32 354.18,596.02 360.00,598.60 C365.82,601.18 369.12,602.87 373.70,610.60 C378.28,618.33 383.12,634.20 387.50,645.00 C391.88,655.80 397.08,667.63 400.00,675.40 C402.92,683.17 402.85,686.28 405.00,691.60 C407.15,696.92 410.28,701.55 412.90,707.30 C415.52,713.05 418.35,719.57 420.70,726.10 C423.05,732.63 424.90,739.43 427.00,746.50 C429.10,753.57 431.20,760.90 433.30,768.50 C435.40,776.10 437.52,784.77 439.60,792.10 C441.68,799.43 443.45,805.95 445.80,812.50 C448.15,819.05 451.08,825.38 453.70,831.40 C456.32,837.42 458.78,843.67 461.50,848.60 C464.22,853.53 466.32,857.17 470.00,861.00 C473.68,864.83 477.90,867.55 483.60,871.60 C489.30,875.65 497.22,880.98 504.20,885.30 C511.18,889.62 521.95,895.47 525.50,897.50" fill="none" stroke="#0000ff" stroke-width="2.7" stroke-linejoin="round" stroke-linecap="round"/>
<path d="M373.70,622.60 C376.00,627.47 383.28,642.57 387.50,651.80 C391.72,661.03 396.33,671.13 399.00,678.00 C401.67,684.87 401.42,687.83 403.50,693.00 C405.58,698.17 408.83,703.17 411.50,709.00 C414.17,714.83 417.08,721.50 419.50,728.00 C421.92,734.50 423.87,741.00 426.00,748.00 C428.13,755.00 430.20,762.42 432.30,770.00 C434.40,777.58 436.48,786.17 438.60,793.50 C440.72,800.83 442.60,807.42 445.00,814.00 C447.40,820.58 450.33,827.00 453.00,833.00 C455.67,839.00 458.25,845.08 461.00,850.00 C463.75,854.92 465.75,858.67 469.50,862.50 C473.25,866.33 477.75,869.00 483.50,873.00 C489.25,877.00 497.00,882.17 504.00,886.50 C511.00,890.83 521.92,896.92 525.50,899.00" fill="none" stroke="#0000ff" stroke-width="3.1" stroke-linecap="round" stroke-dasharray="0 6.4"/>
<path d="M85.20,603.80 C90.53,603.65 107.22,602.82 117.20,602.90 C127.18,602.98 135.82,603.82 145.10,604.30 C154.38,604.78 163.62,605.23 172.90,605.80 C182.18,606.37 191.50,607.07 200.80,607.70 C210.10,608.33 220.75,609.20 228.70,609.60 C236.65,610.00 241.27,609.80 248.50,610.10 C255.73,610.40 262.32,611.48 272.10,611.40 C281.88,611.32 296.70,610.32 307.20,609.60 C317.70,608.88 326.73,607.82 335.10,607.10 C343.47,606.38 349.82,605.28 357.40,605.30 C364.98,605.32 374.45,605.17 380.60,607.20 C386.75,609.23 391.07,613.72 394.30,617.50 C397.53,621.28 397.63,623.57 400.00,629.90 C402.37,636.23 405.65,646.48 408.50,655.50 C411.35,664.52 414.25,674.52 417.10,684.00 C419.95,693.48 423.45,705.85 425.60,712.40 C427.75,718.95 427.97,717.88 430.00,723.30 C432.03,728.72 434.87,738.37 437.80,744.90 C440.73,751.43 444.32,756.95 447.60,762.50 C450.88,768.05 454.55,772.63 457.50,778.20 C460.45,783.77 462.37,788.38 465.30,795.90 C468.23,803.42 471.83,815.13 475.10,823.30 C478.37,831.47 481.63,838.03 484.90,844.90 C488.17,851.77 491.43,859.27 494.70,864.50 C497.97,869.73 501.23,873.03 504.50,876.30 C507.77,879.57 510.80,882.07 514.30,884.10 C517.80,886.13 523.63,887.77 525.50,888.50" fill="none" stroke="#ff00ff" stroke-width="2.7" stroke-linejoin="round" stroke-linecap="round"/>
<path d="M379.70,611.80 C382.13,613.88 390.92,619.38 394.30,624.30 C397.68,629.22 397.63,634.68 400.00,641.30 C402.37,647.92 405.65,655.47 408.50,664.00 C411.35,672.53 414.43,683.83 417.10,692.50 C419.77,701.17 422.52,710.42 424.50,716.00 C426.48,721.58 427.00,720.83 429.00,726.00 C431.00,731.17 433.58,740.58 436.50,747.00 C439.42,753.42 443.17,759.00 446.50,764.50 C449.83,770.00 453.50,774.42 456.50,780.00 C459.50,785.58 461.58,790.50 464.50,798.00 C467.42,805.50 470.75,816.92 474.00,825.00 C477.25,833.08 480.67,839.75 484.00,846.50 C487.33,853.25 490.67,860.33 494.00,865.50 C497.33,870.67 500.67,874.17 504.00,877.50 C507.33,880.83 510.42,883.50 514.00,885.50 C517.58,887.50 523.58,888.83 525.50,889.50" fill="none" stroke="#ff00ff" stroke-width="3.1" stroke-linecap="round" stroke-dasharray="0 6.4"/>
<path d="M85.20,609.60 C90.53,609.40 107.22,608.40 117.20,608.40 C127.18,608.40 135.82,609.10 145.10,609.60 C154.38,610.10 163.62,610.67 172.90,611.40 C182.18,612.13 191.50,613.17 200.80,614.00 C210.10,614.83 220.75,615.92 228.70,616.40 C236.65,616.88 241.27,616.70 248.50,616.90 C255.73,617.10 262.32,617.68 272.10,617.60 C281.88,617.52 295.78,617.22 307.20,616.40 C318.62,615.58 330.68,613.78 340.60,612.70 C350.52,611.62 360.03,610.53 366.70,609.90 C373.37,609.27 375.05,606.98 380.60,608.90 C386.15,610.82 395.35,618.37 400.00,621.40 C404.65,624.43 405.65,623.78 408.50,627.10 C411.35,630.42 414.25,634.67 417.10,641.30 C419.95,647.93 423.30,658.78 425.60,666.90 C427.90,675.02 429.10,683.02 430.90,690.00 C432.70,696.98 434.17,702.25 436.40,708.80 C438.63,715.35 441.68,723.27 444.30,729.30 C446.92,735.33 448.70,737.93 452.10,745.00 C455.50,752.07 460.22,763.87 464.70,771.70 C469.18,779.53 474.98,784.70 479.00,792.00 C483.02,799.30 485.53,807.98 488.80,815.50 C492.07,823.02 495.33,830.23 498.60,837.10 C501.87,843.97 505.13,851.15 508.40,856.70 C511.67,862.25 515.35,866.60 518.20,870.40 C521.05,874.20 524.28,877.98 525.50,879.50" fill="none" stroke="#808000" stroke-width="2.7" stroke-linejoin="round" stroke-linecap="round"/>
<path d="M371.30,607.10 C373.32,607.88 378.95,609.65 383.40,611.80 C387.85,613.95 394.15,617.47 398.00,620.00 C401.85,622.53 403.67,623.33 406.50,627.00 C409.33,630.67 412.17,635.33 415.00,642.00 C417.83,648.67 421.08,659.00 423.50,667.00 C425.92,675.00 427.58,683.00 429.50,690.00 C431.42,697.00 432.75,702.33 435.00,709.00 C437.25,715.67 440.33,723.83 443.00,730.00 C445.67,736.17 447.58,738.92 451.00,746.00 C454.42,753.08 459.00,764.67 463.50,772.50 C468.00,780.33 473.92,785.75 478.00,793.00 C482.08,800.25 484.75,808.58 488.00,816.00 C491.25,823.42 494.25,830.67 497.50,837.50 C500.75,844.33 504.17,851.42 507.50,857.00 C510.83,862.58 514.50,867.08 517.50,871.00 C520.50,874.92 524.17,878.92 525.50,880.50" fill="none" stroke="#808000" stroke-width="3.1" stroke-linecap="round" stroke-dasharray="0 6.4"/>
<path d="M85.20,614.90 C90.53,614.68 107.22,613.65 117.20,613.60 C127.18,613.55 135.82,614.13 145.10,614.60 C154.38,615.07 163.62,615.63 172.90,616.40 C182.18,617.17 191.50,618.27 200.80,619.20 C210.10,620.13 220.75,621.47 228.70,622.00 C236.65,622.53 241.27,621.95 248.50,622.40 C255.73,622.85 263.87,624.23 272.10,624.70 C280.33,625.17 288.95,625.65 297.90,625.20 C306.85,624.75 316.52,623.00 325.80,622.00 C335.08,621.00 344.47,620.07 353.60,619.20 C362.73,618.33 373.82,616.80 380.60,616.80 C387.38,616.80 389.40,617.73 394.30,619.20 C399.20,620.67 405.73,622.40 410.00,625.60 C414.27,628.80 416.83,632.47 419.90,638.40 C422.97,644.33 425.55,652.65 428.40,661.20 C431.25,669.75 434.45,680.98 437.00,689.70 C439.55,698.42 440.95,705.60 443.70,713.50 C446.45,721.40 450.55,731.53 453.50,737.10 C456.45,742.67 458.45,742.98 461.40,746.90 C464.35,750.82 467.93,754.72 471.20,760.60 C474.47,766.48 477.73,774.37 481.00,782.20 C484.27,790.03 487.87,800.08 490.80,807.60 C493.73,815.12 495.98,820.75 498.60,827.30 C501.22,833.85 503.88,841.35 506.50,846.90 C509.12,852.45 511.13,855.92 514.30,860.60 C517.47,865.28 523.63,872.60 525.50,875.00" fill="none" stroke="#ff0000" stroke-width="2.7" stroke-linejoin="round" stroke-linecap="round"/>
<path d="M426.00,648.00 C426.60,650.17 427.57,654.05 429.60,661.00 C431.63,667.95 435.65,680.95 438.20,689.70 C440.75,698.45 442.15,705.60 444.90,713.50 C447.65,721.40 451.75,731.53 454.70,737.10 C457.65,742.67 459.65,742.98 462.60,746.90 C465.55,750.82 469.13,754.72 472.40,760.60 C475.67,766.48 478.93,774.37 482.20,782.20 C485.47,790.03 489.07,800.08 492.00,807.60 C494.93,815.12 497.18,820.75 499.80,827.30 C502.42,833.85 505.08,841.35 507.70,846.90 C510.32,852.45 512.53,856.08 515.50,860.60 C518.47,865.12 523.83,871.77 525.50,874.00" fill="none" stroke="#ff0000" stroke-width="3.1" stroke-linecap="round" stroke-dasharray="0 6.4"/>
</g>
<line x1="85.00" y1="524.00" x2="85.00" y2="947.00" stroke="#000" stroke-width="1"/>
<line x1="79.00" y1="941.00" x2="526.00" y2="941.00" stroke="#000" stroke-width="1"/>
<line x1="85.00" y1="524.00" x2="526.00" y2="524.00" stroke="#000" stroke-width="1"/>
<line x1="526.00" y1="524.00" x2="526.00" y2="947.00" stroke="#000" stroke-width="1"/>
<line x1="85.00" y1="941.00" x2="85.00" y2="947.00" stroke="#000" stroke-width="1"/>
<text x="85.00" y="968.30" font-size="20" text-anchor="middle" font-weight="bold" >125</text>
<line x1="173.20" y1="941.00" x2="173.20" y2="947.00" stroke="#000" stroke-width="1"/>
<text x="173.20" y="968.30" font-size="20" text-anchor="middle" font-weight="bold" >145</text>
<line x1="261.40" y1="941.00" x2="261.40" y2="947.00" stroke="#000" stroke-width="1"/>
<text x="261.40" y="968.30" font-size="20" text-anchor="middle" font-weight="bold" >165</text>
<line x1="349.60" y1="941.00" x2="349.60" y2="947.00" stroke="#000" stroke-width="1"/>
<text x="349.60" y="968.30" font-size="20" text-anchor="middle" font-weight="bold" >185</text>
<line x1="437.80" y1="941.00" x2="437.80" y2="947.00" stroke="#000" stroke-width="1"/>
<text x="437.80" y="968.30" font-size="20" text-anchor="middle" font-weight="bold" >205</text>
<line x1="526.00" y1="941.00" x2="526.00" y2="947.00" stroke="#000" stroke-width="1"/>
<text x="526.00" y="968.30" font-size="20" text-anchor="middle" font-weight="bold" >225</text>
<line x1="129.10" y1="941.00" x2="129.10" y2="943.50" stroke="#000" stroke-width="1"/>
<line x1="217.30" y1="941.00" x2="217.30" y2="943.50" stroke="#000" stroke-width="1"/>
<line x1="305.50" y1="941.00" x2="305.50" y2="943.50" stroke="#000" stroke-width="1"/>
<line x1="393.70" y1="941.00" x2="393.70" y2="943.50" stroke="#000" stroke-width="1"/>
<line x1="481.90" y1="941.00" x2="481.90" y2="943.50" stroke="#000" stroke-width="1"/>
<line x1="173.20" y1="524.00" x2="173.20" y2="530.50" stroke="#000" stroke-width="1"/>
<line x1="261.40" y1="524.00" x2="261.40" y2="530.50" stroke="#000" stroke-width="1"/>
<line x1="349.60" y1="524.00" x2="349.60" y2="530.50" stroke="#000" stroke-width="1"/>
<line x1="437.80" y1="524.00" x2="437.80" y2="530.50" stroke="#000" stroke-width="1"/>
<line x1="129.10" y1="524.00" x2="129.10" y2="527.00" stroke="#000" stroke-width="1"/>
<line x1="217.30" y1="524.00" x2="217.30" y2="527.00" stroke="#000" stroke-width="1"/>
<line x1="305.50" y1="524.00" x2="305.50" y2="527.00" stroke="#000" stroke-width="1"/>
<line x1="393.70" y1="524.00" x2="393.70" y2="527.00" stroke="#000" stroke-width="1"/>
<line x1="481.90" y1="524.00" x2="481.90" y2="527.00" stroke="#000" stroke-width="1"/>
<line x1="79.00" y1="941.00" x2="85.00" y2="941.00" stroke="#000" stroke-width="1"/>
<text x="73.20" y="948.00" font-size="20" text-anchor="end" font-weight="bold" >0</text>
<line x1="79.00" y1="836.75" x2="85.00" y2="836.75" stroke="#000" stroke-width="1"/>
<text x="73.20" y="843.75" font-size="20" text-anchor="end" font-weight="bold" >25</text>
<line x1="79.00" y1="732.50" x2="85.00" y2="732.50" stroke="#000" stroke-width="1"/>
<text x="73.20" y="739.50" font-size="20" text-anchor="end" font-weight="bold" >50</text>
<line x1="79.00" y1="628.25" x2="85.00" y2="628.25" stroke="#000" stroke-width="1"/>
<text x="73.20" y="635.25" font-size="20" text-anchor="end" font-weight="bold" >75</text>
<line x1="79.00" y1="524.00" x2="85.00" y2="524.00" stroke="#000" stroke-width="1"/>
<text x="73.20" y="531.00" font-size="20" text-anchor="end" font-weight="bold" >100</text>
<line x1="82.00" y1="888.88" x2="85.00" y2="888.88" stroke="#000" stroke-width="1"/>
<line x1="82.00" y1="784.62" x2="85.00" y2="784.62" stroke="#000" stroke-width="1"/>
<line x1="82.00" y1="680.38" x2="85.00" y2="680.38" stroke="#000" stroke-width="1"/>
<line x1="82.00" y1="576.12" x2="85.00" y2="576.12" stroke="#000" stroke-width="1"/>
<line x1="523.00" y1="565.80" x2="526.00" y2="565.80" stroke="#000" stroke-width="1"/>
<line x1="521.00" y1="607.50" x2="526.00" y2="607.50" stroke="#000" stroke-width="1"/>
<line x1="523.00" y1="649.20" x2="526.00" y2="649.20" stroke="#000" stroke-width="1"/>
<line x1="521.00" y1="690.90" x2="526.00" y2="690.90" stroke="#000" stroke-width="1"/>
<line x1="523.00" y1="732.60" x2="526.00" y2="732.60" stroke="#000" stroke-width="1"/>
<line x1="521.00" y1="774.30" x2="526.00" y2="774.30" stroke="#000" stroke-width="1"/>
<line x1="523.00" y1="816.00" x2="526.00" y2="816.00" stroke="#000" stroke-width="1"/>
<line x1="521.00" y1="857.70" x2="526.00" y2="857.70" stroke="#000" stroke-width="1"/>
<line x1="523.00" y1="899.40" x2="526.00" y2="899.40" stroke="#000" stroke-width="1"/>
<text x="297.20" y="1000.60" font-size="20.4" text-anchor="middle" font-weight="bold" >Wavelength [nm]</text>
<text x="30.30" y="723.80" font-size="20.3" text-anchor="middle" font-weight="bold" transform="rotate(-90 30.3 723.8)">Optical losses [%]</text>
<text x="12.00" y="526.80" font-size="18.3"><tspan>(</tspan><tspan stroke="#000" stroke-width="0.6">c</tspan><tspan>)</tspan></text>
<rect x="95.00" y="745.40" width="25.10" height="10.2" fill="#000000" stroke="#333" stroke-width="0.8"/>
<text x="129.00" y="753.70"><tspan font-size="12.1" letter-spacing="0.25" stroke="#000" stroke-width="0.6">SiO</tspan><tspan font-size="8" dy="3.4" stroke="#000" stroke-width="0.2">2</tspan><tspan font-size="12.1" letter-spacing="0.25" stroke="#000" stroke-width="0.6" dy="-3.4"> = 3016 Cycles</tspan></text>
<rect x="95.00" y="764.30" width="25.10" height="10.2" fill="#ff0000" stroke="#333" stroke-width="0.8"/>
<text x="127.50" y="771.20"><tspan font-size="12.1" letter-spacing="0.25" stroke="#000" stroke-width="0.6">HfO</tspan><tspan font-size="8" dy="3.4" stroke="#000" stroke-width="0.2">2</tspan><tspan font-size="12.1" letter-spacing="0.25" stroke="#000" stroke-width="0.6" dy="-3.4"> = 1524 Cycles</tspan></text>
<rect x="95.00" y="783.40" width="25.10" height="10.2" fill="#00ff00" stroke="#333" stroke-width="0.8"/>
<text x="127.00" y="790.10"><tspan font-size="12.8" stroke="#000" stroke-width="0.42">SiO</tspan><tspan font-size="12.8" stroke="#000" stroke-width="0.42" dy="3.4">2</tspan><tspan font-size="12.8" stroke="#000" stroke-width="0.42" dy="-3.4">:HfO</tspan><tspan font-size="12.8" stroke="#000" stroke-width="0.42" dy="3.4">2</tspan><tspan font-size="12.8" stroke="#000" stroke-width="0.42" dy="-3.4"> = [4:2]*465</tspan></text>
<rect x="95.00" y="802.30" width="25.10" height="10.2" fill="#0000ff" stroke="#333" stroke-width="0.8"/>
<text x="127.00" y="809.30"><tspan font-size="12.8" stroke="#000" stroke-width="0.42">SiO</tspan><tspan font-size="12.8" stroke="#000" stroke-width="0.42" dy="3.4">2</tspan><tspan font-size="12.8" stroke="#000" stroke-width="0.42" dy="-3.4">:HfO</tspan><tspan font-size="12.8" stroke="#000" stroke-width="0.42" dy="3.4">2</tspan><tspan font-size="12.8" stroke="#000" stroke-width="0.42" dy="-3.4"> = [4:4]*315</tspan></text>
<rect x="95.00" y="821.00" width="25.10" height="10.2" fill="#ff00ff" stroke="#333" stroke-width="0.8"/>
<text x="127.70" y="829.50"><tspan font-size="12.8" stroke="#000" stroke-width="0.42">SiO</tspan><tspan font-size="12.8" stroke="#000" stroke-width="0.42" dy="3.4">2</tspan><tspan font-size="12.8" stroke="#000" stroke-width="0.42" dy="-3.4">:HfO</tspan><tspan font-size="12.8" stroke="#000" stroke-width="0.42" dy="3.4">2</tspan><tspan font-size="12.8" stroke="#000" stroke-width="0.42" dy="-3.4"> = [4:8]*160</tspan></text>
<rect x="95.00" y="839.70" width="25.10" height="10.2" fill="#808000" stroke="#333" stroke-width="0.8"/>
<text x="128.20" y="848.30"><tspan font-size="12.8" stroke="#000" stroke-width="0.42">SiO</tspan><tspan font-size="12.8" stroke="#000" stroke-width="0.42" dy="3.4">2</tspan><tspan font-size="12.8" stroke="#000" stroke-width="0.42" dy="-3.4">:HfO</tspan><tspan font-size="12.8" stroke="#000" stroke-width="0.42" dy="3.4">2</tspan><tspan font-size="12.8" stroke="#000" stroke-width="0.42" dy="-3.4"> = [4:16]*87</tspan></text>
<g clip-path="url(#cf)">
<path d="M604.10,582.00 C607.13,580.30 616.78,574.52 622.30,571.80 C627.82,569.08 631.62,567.65 637.20,565.70 C642.78,563.75 649.62,561.55 655.80,560.10 C661.98,558.65 668.12,558.05 674.30,557.00 C680.48,555.95 686.70,554.43 692.90,553.80 C699.10,553.17 705.92,553.60 711.50,553.20 C717.08,552.80 722.52,551.92 726.40,551.40 C730.28,550.88 733.40,550.32 734.80,550.10 C736.35,551.08 742.55,555.02 744.10,556.00 C744.87,558.48 747.32,565.93 748.70,570.90 C750.08,575.87 751.47,580.23 752.40,585.80 C753.33,591.37 753.37,596.25 754.30,604.30 C755.23,612.35 756.77,624.18 758.00,634.10 C759.23,644.02 760.73,652.82 761.70,663.80 C762.67,674.78 762.92,689.72 763.80,700.00 C764.68,710.28 765.17,710.80 767.00,725.50 C768.83,740.20 772.45,769.90 774.80,788.20 C777.15,806.50 779.00,822.02 781.10,835.30 C783.20,848.58 784.95,857.82 787.40,867.90 C789.85,877.98 793.02,888.93 795.80,895.80 C798.58,902.67 801.08,905.62 804.10,909.10 C807.12,912.58 810.65,914.75 813.90,916.70 C817.15,918.65 818.72,919.73 823.60,920.80 C828.48,921.87 832.97,922.87 843.20,923.10 C853.43,923.33 872.00,922.20 885.00,922.20 C898.00,922.20 910.52,922.40 921.20,923.10 C931.88,923.80 939.80,925.28 949.10,926.40 C958.40,927.52 967.72,928.50 977.00,929.80 C986.28,931.10 994.58,932.90 1004.80,934.20 C1015.02,935.50 1032.72,937.03 1038.30,937.60" fill="none" stroke="#000000" stroke-width="2.7" stroke-linejoin="round" stroke-linecap="round"/>
<path d="M935.20,927.00 C939.83,927.60 953.72,929.40 963.00,930.60 C972.28,931.80 981.60,933.13 990.90,934.20 C1000.20,935.27 1010.90,936.20 1018.80,937.00 C1026.70,937.80 1035.05,938.67 1038.30,939.00" fill="none" stroke="#000000" stroke-width="3.1" stroke-linecap="round" stroke-dasharray="0 6.4"/>
<path d="M604.10,576.80 C606.52,576.58 611.53,576.02 618.60,575.50 C625.67,574.98 638.75,574.00 646.50,573.70 C654.25,573.40 657.98,573.55 665.10,573.70 C672.22,573.85 681.47,574.30 689.20,574.60 C696.93,574.90 704.07,575.43 711.50,575.50 C718.93,575.57 726.05,575.23 733.80,575.00 C741.55,574.77 750.87,574.42 758.00,574.10 C765.13,573.78 771.27,573.08 776.60,573.10 C781.93,573.12 785.90,573.38 790.00,574.20 C794.10,575.02 797.48,576.38 801.20,578.00 C804.92,579.62 808.90,581.68 812.30,583.90 C815.70,586.12 818.82,588.52 821.60,591.30 C824.38,594.08 826.52,596.57 829.00,600.60 C831.48,604.63 833.70,609.30 836.50,615.50 C839.30,621.70 842.70,630.05 845.80,637.80 C848.90,645.55 852.02,654.25 855.10,662.00 C858.18,669.75 862.15,679.13 864.30,684.30 C866.45,689.47 864.78,685.22 868.00,693.00 C871.22,700.78 877.90,716.58 883.60,731.00 C889.30,745.42 896.92,766.13 902.20,779.50 C907.48,792.87 911.17,801.20 915.30,811.20 C919.43,821.20 922.72,831.03 927.00,839.50 C931.28,847.97 935.00,854.02 941.00,862.00 C947.00,869.98 954.68,879.92 963.00,887.40 C971.32,894.88 981.60,901.78 990.90,906.90 C1000.20,912.02 1010.90,915.55 1018.80,918.10 C1026.70,920.65 1035.05,921.52 1038.30,922.20" fill="none" stroke="#800080" stroke-width="2.7" stroke-linejoin="round" stroke-linecap="round"/>
<path d="M930.60,862.50 C931.30,863.43 933.47,866.23 934.80,868.10 C936.13,869.97 936.68,870.95 938.60,873.70 C940.52,876.45 941.30,879.53 946.30,884.60 C951.30,889.67 961.17,898.75 968.60,904.10 C976.03,909.45 982.53,913.22 990.90,916.70 C999.27,920.18 1010.90,923.15 1018.80,925.00 C1026.70,926.85 1035.05,927.33 1038.30,927.80" fill="none" stroke="#800080" stroke-width="3.1" stroke-linecap="round" stroke-dasharray="0 6.4"/>
<path d="M604.10,585.40 C606.52,585.22 611.53,584.62 618.60,584.30 C625.67,583.98 637.22,583.47 646.50,583.50 C655.78,583.53 665.02,583.97 674.30,584.50 C683.58,585.03 692.90,586.18 702.20,586.70 C711.50,587.22 720.80,587.38 730.10,587.60 C739.40,587.82 748.02,588.07 758.00,588.00 C767.98,587.93 781.57,587.67 790.00,587.20 C798.43,586.73 800.85,585.65 808.60,585.20 C816.35,584.75 830.30,584.47 836.50,584.50 C842.70,584.53 842.70,584.72 845.80,585.40 C848.90,586.08 852.02,586.83 855.10,588.60 C858.18,590.37 861.22,592.45 864.30,596.00 C867.38,599.55 870.50,604.48 873.60,609.90 C876.70,615.32 879.80,622.45 882.90,628.50 C886.00,634.55 889.35,640.17 892.20,646.20 C895.05,652.23 897.27,657.30 900.00,664.70 C902.73,672.10 905.72,680.90 908.60,690.60 C911.48,700.30 914.42,712.12 917.30,722.90 C920.18,733.68 923.03,745.23 925.90,755.30 C928.77,765.37 931.63,773.60 934.50,783.30 C937.37,793.00 939.78,804.18 943.10,813.50 C946.42,822.82 949.68,831.07 954.40,839.20 C959.12,847.33 965.32,854.73 971.40,862.30 C977.48,869.87 983.93,877.87 990.90,884.60 C997.87,891.33 1005.27,897.50 1013.20,902.70 C1021.13,907.90 1034.28,913.62 1038.50,915.80" fill="none" stroke="#008080" stroke-width="2.7" stroke-linejoin="round" stroke-linecap="round"/>
<path d="M888.50,651.70 C889.43,653.72 892.18,658.75 894.10,663.80 C896.02,668.85 897.93,675.75 900.00,682.00 C902.07,688.25 904.35,694.48 906.50,701.30 C908.65,708.12 910.75,715.70 912.90,722.90 C915.05,730.10 916.88,736.60 919.40,744.50 C921.92,752.40 925.40,763.38 928.00,770.30 C930.60,777.22 932.42,778.55 935.00,786.00 C937.58,793.45 940.25,805.92 943.50,815.00 C946.75,824.08 949.85,832.42 954.50,840.50 C959.15,848.58 965.33,855.92 971.40,863.50 C977.47,871.08 983.93,879.25 990.90,886.00 C997.87,892.75 1005.27,898.83 1013.20,904.00 C1021.13,909.17 1034.28,914.83 1038.50,917.00" fill="none" stroke="#008080" stroke-width="3.1" stroke-linecap="round" stroke-dasharray="0 6.4"/>
<path d="M604.10,596.40 C608.07,596.18 619.28,595.38 627.90,595.10 C636.52,594.82 646.52,594.47 655.80,594.70 C665.08,594.93 674.32,595.82 683.60,596.50 C692.88,597.18 702.20,598.17 711.50,598.80 C720.80,599.43 730.10,599.90 739.40,600.30 C748.70,600.70 758.87,601.05 767.30,601.20 C775.73,601.35 780.02,601.35 790.00,601.20 C799.98,601.05 816.98,600.95 827.20,600.30 C837.42,599.65 844.18,598.02 851.30,597.30 C858.42,596.58 864.93,595.75 869.90,596.00 C874.87,596.25 877.75,597.38 881.10,598.80 C884.45,600.22 886.85,601.42 890.00,604.50 C893.15,607.58 896.53,613.02 900.00,617.30 C903.47,621.58 907.20,624.45 910.80,630.20 C914.40,635.95 918.37,643.53 921.60,651.80 C924.83,660.07 927.33,669.75 930.20,679.80 C933.07,689.85 935.93,700.97 938.80,712.10 C941.67,723.23 944.52,736.17 947.40,746.60 C950.28,757.03 953.22,766.78 956.10,774.70 C958.98,782.62 961.47,787.63 964.70,794.10 C967.93,800.57 971.95,807.35 975.50,813.50 C979.05,819.65 981.62,823.42 986.00,831.00 C990.38,838.58 996.22,850.82 1001.80,859.00 C1007.38,867.18 1013.38,873.52 1019.50,880.10 C1025.62,886.68 1035.33,895.43 1038.50,898.50" fill="none" stroke="#ff8000" stroke-width="2.7" stroke-linejoin="round" stroke-linecap="round"/>
<path d="M890.40,609.90 C891.63,611.15 895.83,615.45 897.80,617.40 C899.77,619.35 899.68,617.67 902.20,621.60 C904.72,625.53 909.67,633.82 912.90,641.00 C916.13,648.18 918.72,655.72 921.60,664.70 C924.48,673.68 927.52,685.55 930.20,694.90 C932.88,704.25 935.18,712.18 937.70,720.80 C940.22,729.42 942.42,737.48 945.30,746.60 C948.18,755.72 951.88,767.43 955.00,775.50 C958.12,783.57 960.67,788.50 964.00,795.00 C967.33,801.50 971.33,808.33 975.00,814.50 C978.67,820.67 981.58,824.42 986.00,832.00 C990.42,839.58 995.92,851.78 1001.50,860.00 C1007.08,868.22 1013.33,874.72 1019.50,881.30 C1025.67,887.88 1035.33,896.47 1038.50,899.50" fill="none" stroke="#ff8000" stroke-width="3.1" stroke-linecap="round" stroke-dasharray="0 6.4"/>
<path d="M604.10,604.30 C609.62,604.00 628.58,602.72 637.20,602.50 C645.82,602.28 648.07,602.53 655.80,603.00 C663.53,603.47 674.32,604.55 683.60,605.30 C692.88,606.05 702.20,606.78 711.50,607.50 C720.80,608.22 730.10,609.03 739.40,609.60 C748.70,610.17 758.87,610.63 767.30,610.90 C775.73,611.17 782.50,611.15 790.00,611.20 C797.50,611.25 804.55,611.47 812.30,611.20 C820.05,610.93 827.83,610.37 836.50,609.60 C845.17,608.83 856.57,607.23 864.30,606.60 C872.03,605.97 876.95,605.47 882.90,605.80 C888.85,606.13 895.72,606.87 900.00,608.60 C904.28,610.33 905.37,611.52 908.60,616.20 C911.83,620.88 915.80,628.62 919.40,636.70 C923.00,644.78 926.60,656.43 930.20,664.70 C933.80,672.97 937.40,679.12 941.00,686.30 C944.60,693.48 948.57,700.62 951.80,707.80 C955.03,714.98 957.53,721.48 960.40,729.40 C963.27,737.32 965.73,743.80 969.00,755.30 C972.27,766.80 977.47,788.78 980.00,798.40 C982.53,808.02 981.15,804.67 984.20,813.00 C987.25,821.33 994.33,840.40 998.30,848.40 C1002.27,856.40 1004.47,857.48 1008.00,861.00 C1011.53,864.52 1014.42,866.20 1019.50,869.50 C1024.58,872.80 1035.33,878.92 1038.50,880.80" fill="none" stroke="#8000ff" stroke-width="2.7" stroke-linejoin="round" stroke-linecap="round"/>
<path d="M886.70,604.30 C888.55,605.23 894.08,607.62 897.80,609.90 C901.52,612.18 905.22,613.32 909.00,618.00 C912.78,622.68 916.75,630.00 920.50,638.00 C924.25,646.00 927.83,657.75 931.50,666.00 C935.17,674.25 938.92,680.33 942.50,687.50 C946.08,694.67 949.83,701.75 953.00,709.00 C956.17,716.25 958.67,723.00 961.50,731.00 C964.33,739.00 966.75,745.50 970.00,757.00 C973.25,768.50 978.42,790.42 981.00,800.00 C983.58,809.58 982.42,806.25 985.50,814.50 C988.58,822.75 995.50,841.58 999.50,849.50 C1003.50,857.42 1005.92,858.42 1009.50,862.00 C1013.08,865.58 1016.17,867.67 1021.00,871.00 C1025.83,874.33 1035.58,880.17 1038.50,882.00" fill="none" stroke="#8000ff" stroke-width="3.1" stroke-linecap="round" stroke-dasharray="0 6.4"/>
<path d="M604.10,615.10 C608.07,614.85 619.28,613.68 627.90,613.60 C636.52,613.52 646.52,614.13 655.80,614.60 C665.08,615.07 674.32,615.78 683.60,616.40 C692.88,617.02 702.20,617.47 711.50,618.30 C720.80,619.13 730.10,620.47 739.40,621.40 C748.70,622.33 758.87,623.33 767.30,623.90 C775.73,624.47 782.50,624.50 790.00,624.80 C797.50,625.10 804.55,625.85 812.30,625.70 C820.05,625.55 827.83,624.83 836.50,623.90 C845.17,622.97 856.57,621.13 864.30,620.10 C872.03,619.07 876.95,618.17 882.90,617.70 C888.85,617.23 895.00,616.65 900.00,617.30 C905.00,617.95 908.58,619.98 912.90,621.60 C917.22,623.22 923.73,626.10 925.90,627.00 C927.33,628.97 933.07,636.83 934.50,638.80 C935.93,642.75 940.22,653.87 943.10,662.50 C945.98,671.13 948.92,680.88 951.80,690.60 C954.68,700.32 957.53,712.90 960.40,720.80 C963.27,728.70 965.73,732.62 969.00,738.00 C972.27,743.38 977.25,749.10 980.00,753.10 C982.75,757.10 983.03,756.72 985.50,762.00 C987.97,767.28 991.48,776.30 994.80,784.80 C998.12,793.30 1001.87,803.58 1005.40,813.00 C1008.93,822.42 1012.47,833.05 1016.00,841.30 C1019.53,849.55 1022.85,856.85 1026.60,862.50 C1030.35,868.15 1036.52,873.08 1038.50,875.20" fill="none" stroke="#ff0000" stroke-width="2.7" stroke-linejoin="round" stroke-linecap="round"/>
<path d="M944.60,662.50 C946.05,667.18 950.42,680.88 953.30,690.60 C956.18,700.32 959.03,712.90 961.90,720.80 C964.77,728.70 967.23,732.62 970.50,738.00 C973.77,743.38 978.75,749.10 981.50,753.10 C984.25,757.10 984.53,756.72 987.00,762.00 C989.47,767.28 992.98,776.30 996.30,784.80 C999.62,793.30 1003.37,803.58 1006.90,813.00 C1010.43,822.42 1013.98,833.05 1017.50,841.30 C1021.02,849.55 1024.50,857.05 1028.00,862.50 C1031.50,867.95 1036.75,872.08 1038.50,874.00" fill="none" stroke="#ff0000" stroke-width="3.1" stroke-linecap="round" stroke-dasharray="0 6.4"/>
</g>
<line x1="604.50" y1="524.00" x2="604.50" y2="947.00" stroke="#000" stroke-width="1"/>
<line x1="598.50" y1="941.00" x2="1038.50" y2="941.00" stroke="#000" stroke-width="1"/>
<line x1="604.50" y1="524.00" x2="1038.50" y2="524.00" stroke="#000" stroke-width="1"/>
<line x1="1038.50" y1="524.00" x2="1038.50" y2="947.00" stroke="#000" stroke-width="1"/>
<line x1="604.50" y1="941.00" x2="604.50" y2="947.00" stroke="#000" stroke-width="1"/>
<text x="604.50" y="968.30" font-size="20" text-anchor="middle" font-weight="bold" >125</text>
<line x1="691.30" y1="941.00" x2="691.30" y2="947.00" stroke="#000" stroke-width="1"/>
<text x="691.30" y="968.30" font-size="20" text-anchor="middle" font-weight="bold" >145</text>
<line x1="778.10" y1="941.00" x2="778.10" y2="947.00" stroke="#000" stroke-width="1"/>
<text x="778.10" y="968.30" font-size="20" text-anchor="middle" font-weight="bold" >165</text>
<line x1="864.90" y1="941.00" x2="864.90" y2="947.00" stroke="#000" stroke-width="1"/>
<text x="864.90" y="968.30" font-size="20" text-anchor="middle" font-weight="bold" >185</text>
<line x1="951.70" y1="941.00" x2="951.70" y2="947.00" stroke="#000" stroke-width="1"/>
<text x="951.70" y="968.30" font-size="20" text-anchor="middle" font-weight="bold" >205</text>
<line x1="1038.50" y1="941.00" x2="1038.50" y2="947.00" stroke="#000" stroke-width="1"/>
<text x="1038.50" y="968.30" font-size="20" text-anchor="middle" font-weight="bold" >225</text>
<line x1="647.90" y1="941.00" x2="647.90" y2="943.50" stroke="#000" stroke-width="1"/>
<line x1="734.70" y1="941.00" x2="734.70" y2="943.50" stroke="#000" stroke-width="1"/>
<line x1="821.50" y1="941.00" x2="821.50" y2="943.50" stroke="#000" stroke-width="1"/>
<line x1="908.30" y1="941.00" x2="908.30" y2="943.50" stroke="#000" stroke-width="1"/>
<line x1="995.10" y1="941.00" x2="995.10" y2="943.50" stroke="#000" stroke-width="1"/>
<line x1="691.30" y1="524.00" x2="691.30" y2="530.50" stroke="#000" stroke-width="1"/>
<line x1="778.10" y1="524.00" x2="778.10" y2="530.50" stroke="#000" stroke-width="1"/>
<line x1="864.90" y1="524.00" x2="864.90" y2="530.50" stroke="#000" stroke-width="1"/>
<line x1="951.70" y1="524.00" x2="951.70" y2="530.50" stroke="#000" stroke-width="1"/>
<line x1="647.90" y1="524.00" x2="647.90" y2="527.00" stroke="#000" stroke-width="1"/>
<line x1="734.70" y1="524.00" x2="734.70" y2="527.00" stroke="#000" stroke-width="1"/>
<line x1="821.50" y1="524.00" x2="821.50" y2="527.00" stroke="#000" stroke-width="1"/>
<line x1="908.30" y1="524.00" x2="908.30" y2="527.00" stroke="#000" stroke-width="1"/>
<line x1="995.10" y1="524.00" x2="995.10" y2="527.00" stroke="#000" stroke-width="1"/>
<line x1="598.50" y1="941.00" x2="604.50" y2="941.00" stroke="#000" stroke-width="1"/>
<text x="593.00" y="948.00" font-size="20" text-anchor="end" font-weight="bold" >0</text>
<line x1="598.50" y1="836.75" x2="604.50" y2="836.75" stroke="#000" stroke-width="1"/>
<text x="593.00" y="843.75" font-size="20" text-anchor="end" font-weight="bold" >25</text>
<line x1="598.50" y1="732.50" x2="604.50" y2="732.50" stroke="#000" stroke-width="1"/>
<text x="593.00" y="739.50" font-size="20" text-anchor="end" font-weight="bold" >50</text>
<line x1="598.50" y1="628.25" x2="604.50" y2="628.25" stroke="#000" stroke-width="1"/>
<text x="593.00" y="635.25" font-size="20" text-anchor="end" font-weight="bold" >75</text>
<line x1="598.50" y1="524.00" x2="604.50" y2="524.00" stroke="#000" stroke-width="1"/>
<text x="593.00" y="531.00" font-size="20" text-anchor="end" font-weight="bold" >100</text>
<line x1="601.50" y1="888.88" x2="604.50" y2="888.88" stroke="#000" stroke-width="1"/>
<line x1="601.50" y1="784.62" x2="604.50" y2="784.62" stroke="#000" stroke-width="1"/>
<line x1="601.50" y1="680.38" x2="604.50" y2="680.38" stroke="#000" stroke-width="1"/>
<line x1="601.50" y1="576.12" x2="604.50" y2="576.12" stroke="#000" stroke-width="1"/>
<line x1="1035.50" y1="565.90" x2="1038.50" y2="565.90" stroke="#000" stroke-width="1"/>
<line x1="1033.50" y1="607.60" x2="1038.50" y2="607.60" stroke="#000" stroke-width="1"/>
<line x1="1035.50" y1="649.30" x2="1038.50" y2="649.30" stroke="#000" stroke-width="1"/>
<line x1="1033.50" y1="691.00" x2="1038.50" y2="691.00" stroke="#000" stroke-width="1"/>
<line x1="1035.50" y1="732.70" x2="1038.50" y2="732.70" stroke="#000" stroke-width="1"/>
<line x1="1033.50" y1="774.40" x2="1038.50" y2="774.40" stroke="#000" stroke-width="1"/>
<line x1="1035.50" y1="816.10" x2="1038.50" y2="816.10" stroke="#000" stroke-width="1"/>
<line x1="1033.50" y1="857.80" x2="1038.50" y2="857.80" stroke="#000" stroke-width="1"/>
<line x1="1035.50" y1="899.50" x2="1038.50" y2="899.50" stroke="#000" stroke-width="1"/>
<text x="814.00" y="1000.60" font-size="20.4" text-anchor="middle" font-weight="bold" >Wavelength [nm]</text>
<text x="551.30" y="723.20" font-size="20.3" text-anchor="middle" font-weight="bold" transform="rotate(-90 551.3 723.2)">Optical losses [%]</text>
<text x="535.30" y="529.20" font-size="18.3"><tspan>(</tspan><tspan stroke="#000" stroke-width="0.6">f</tspan><tspan>)</tspan></text>
<rect x="613.70" y="738.10" width="21.30" height="9.8" fill="#000000" stroke="#333" stroke-width="0.8"/>
<text x="640.50" y="747.60"><tspan font-size="12.1" letter-spacing="0.25" stroke="#000" stroke-width="0.6">SiO</tspan><tspan font-size="8" dy="3.4" stroke="#000" stroke-width="0.2">2</tspan><tspan font-size="12.1" letter-spacing="0.25" stroke="#000" stroke-width="0.6" dy="-3.4"> = 3016 Cycles</tspan></text>
<rect x="613.70" y="755.60" width="21.30" height="9.8" fill="#ff0000" stroke="#333" stroke-width="0.8"/>
<text x="641.60" y="764.50"><tspan font-size="12.1" letter-spacing="0.25" stroke="#000" stroke-width="0.6">HfO</tspan><tspan font-size="8" dy="3.4" stroke="#000" stroke-width="0.2">2</tspan><tspan font-size="12.1" letter-spacing="0.25" stroke="#000" stroke-width="0.6" dy="-3.4"> = 1524 Cycles</tspan></text>
<rect x="613.70" y="773.50" width="21.30" height="9.8" fill="#800080" stroke="#333" stroke-width="0.8"/>
<text x="640.30" y="782.10"><tspan font-size="12.8" stroke="#000" stroke-width="0.42">SiO</tspan><tspan font-size="12.8" stroke="#000" stroke-width="0.42" dy="3.4">2</tspan><tspan font-size="12.8" stroke="#000" stroke-width="0.42" dy="-3.4">:HfO</tspan><tspan font-size="12.8" stroke="#000" stroke-width="0.42" dy="3.4">2</tspan><tspan font-size="12.8" stroke="#000" stroke-width="0.42" dy="-3.4"> = [8:2]*300</tspan></text>
<rect x="613.70" y="790.10" width="21.30" height="9.8" fill="#008080" stroke="#333" stroke-width="0.8"/>
<text x="640.50" y="799.00"><tspan font-size="12.8" stroke="#000" stroke-width="0.42">SiO</tspan><tspan font-size="12.8" stroke="#000" stroke-width="0.42" dy="3.4">2</tspan><tspan font-size="12.8" stroke="#000" stroke-width="0.42" dy="-3.4">:HfO</tspan><tspan font-size="12.8" stroke="#000" stroke-width="0.42" dy="3.4">2</tspan><tspan font-size="12.8" stroke="#000" stroke-width="0.42" dy="-3.4"> = [8:4]*230</tspan></text>
<rect x="613.70" y="807.60" width="21.30" height="9.8" fill="#ff8000" stroke="#333" stroke-width="0.8"/>
<text x="640.50" y="815.90"><tspan font-size="12.8" stroke="#000" stroke-width="0.42">SiO</tspan><tspan font-size="12.8" stroke="#000" stroke-width="0.42" dy="3.4">2</tspan><tspan font-size="12.8" stroke="#000" stroke-width="0.42" dy="-3.4">:HfO</tspan><tspan font-size="12.8" stroke="#000" stroke-width="0.42" dy="3.4">2</tspan><tspan font-size="12.8" stroke="#000" stroke-width="0.42" dy="-3.4"> = [8:8]*145</tspan></text>
<rect x="613.70" y="825.50" width="21.30" height="9.8" fill="#8000ff" stroke="#333" stroke-width="0.8"/>
<text x="640.50" y="834.10"><tspan font-size="12.8" stroke="#000" stroke-width="0.42">SiO</tspan><tspan font-size="12.8" stroke="#000" stroke-width="0.42" dy="3.4">2</tspan><tspan font-size="12.8" stroke="#000" stroke-width="0.42" dy="-3.4">:HfO</tspan><tspan font-size="12.8" stroke="#000" stroke-width="0.42" dy="3.4">2</tspan><tspan font-size="12.8" stroke="#000" stroke-width="0.42" dy="-3.4"> = [8:16]*76</tspan></text>
</svg></body></html>
